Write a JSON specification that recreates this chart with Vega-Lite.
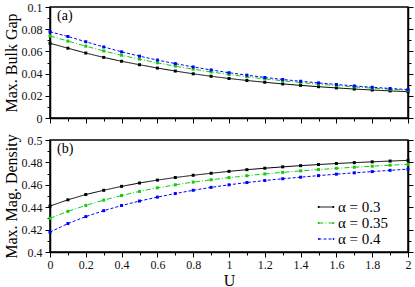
{
  "$schema": "https://vega.github.io/schema/vega-lite/v6.json",
  "padding": {"left": 2, "top": 0, "right": 2, "bottom": 0},
  "spacing": 8,
  "config": {
    "font": "Liberation Serif",
    "view": {"stroke": "#000000", "strokeWidth": 1.5},
    "axis": {"domainColor": "#000000", "domainWidth": 1.5, "tickColor": "#000000", "tickWidth": 1, "labelFont": "Liberation Serif", "labelFontSize": 12, "labelColor": "#111111", "titleFont": "Liberation Serif", "titleFontWeight": "normal", "titleColor": "#000000", "grid": false, "labelOverlap": false, "labelFlush": false, "labelPadding": 3},
    "legend": {"labelFont": "Liberation Serif", "labelFontSize": 15, "labelColor": "#000000"}
  },
  "datasets": {
    "rows": [
      {"U": 0.0, "s": "α = 0.3", "g": 0.0673, "d": 0.4410},
      {"U": 0.1, "s": "α = 0.3", "g": 0.0629, "d": 0.4466},
      {"U": 0.2, "s": "α = 0.3", "g": 0.0585, "d": 0.4513},
      {"U": 0.3, "s": "α = 0.3", "g": 0.0546, "d": 0.4551},
      {"U": 0.4, "s": "α = 0.3", "g": 0.0511, "d": 0.4586},
      {"U": 0.5, "s": "α = 0.3", "g": 0.0480, "d": 0.4616},
      {"U": 0.6, "s": "α = 0.3", "g": 0.0450, "d": 0.4642},
      {"U": 0.7, "s": "α = 0.3", "g": 0.0423, "d": 0.4665},
      {"U": 0.8, "s": "α = 0.3", "g": 0.0398, "d": 0.4685},
      {"U": 0.9, "s": "α = 0.3", "g": 0.0376, "d": 0.4703},
      {"U": 1.0, "s": "α = 0.3", "g": 0.0356, "d": 0.4720},
      {"U": 1.1, "s": "α = 0.3", "g": 0.0338, "d": 0.4735},
      {"U": 1.2, "s": "α = 0.3", "g": 0.0322, "d": 0.4748},
      {"U": 1.3, "s": "α = 0.3", "g": 0.0307, "d": 0.4760},
      {"U": 1.4, "s": "α = 0.3", "g": 0.0294, "d": 0.4771},
      {"U": 1.5, "s": "α = 0.3", "g": 0.0282, "d": 0.4781},
      {"U": 1.6, "s": "α = 0.3", "g": 0.0271, "d": 0.4790},
      {"U": 1.7, "s": "α = 0.3", "g": 0.0261, "d": 0.4798},
      {"U": 1.8, "s": "α = 0.3", "g": 0.0252, "d": 0.4805},
      {"U": 1.9, "s": "α = 0.3", "g": 0.0244, "d": 0.4812},
      {"U": 2.0, "s": "α = 0.3", "g": 0.0237, "d": 0.4818},
      {"U": 0.0, "s": "α = 0.35", "g": 0.0739, "d": 0.4301},
      {"U": 0.1, "s": "α = 0.35", "g": 0.0693, "d": 0.4363},
      {"U": 0.2, "s": "α = 0.35", "g": 0.0647, "d": 0.4416},
      {"U": 0.3, "s": "α = 0.35", "g": 0.0604, "d": 0.4463},
      {"U": 0.4, "s": "α = 0.35", "g": 0.0565, "d": 0.4504},
      {"U": 0.5, "s": "α = 0.35", "g": 0.0530, "d": 0.4541},
      {"U": 0.6, "s": "α = 0.35", "g": 0.0497, "d": 0.4573},
      {"U": 0.7, "s": "α = 0.35", "g": 0.0467, "d": 0.4600},
      {"U": 0.8, "s": "α = 0.35", "g": 0.0440, "d": 0.4624},
      {"U": 0.9, "s": "α = 0.35", "g": 0.0415, "d": 0.4645},
      {"U": 1.0, "s": "α = 0.35", "g": 0.0392, "d": 0.4664},
      {"U": 1.1, "s": "α = 0.35", "g": 0.0371, "d": 0.4681},
      {"U": 1.2, "s": "α = 0.35", "g": 0.0352, "d": 0.4697},
      {"U": 1.3, "s": "α = 0.35", "g": 0.0335, "d": 0.4711},
      {"U": 1.4, "s": "α = 0.35", "g": 0.0319, "d": 0.4724},
      {"U": 1.5, "s": "α = 0.35", "g": 0.0305, "d": 0.4736},
      {"U": 1.6, "s": "α = 0.35", "g": 0.0292, "d": 0.4747},
      {"U": 1.7, "s": "α = 0.35", "g": 0.0280, "d": 0.4757},
      {"U": 1.8, "s": "α = 0.35", "g": 0.0269, "d": 0.4766},
      {"U": 1.9, "s": "α = 0.35", "g": 0.0259, "d": 0.4775},
      {"U": 2.0, "s": "α = 0.35", "g": 0.0250, "d": 0.4783},
      {"U": 0.0, "s": "α = 0.4", "g": 0.0777, "d": 0.4177},
      {"U": 0.1, "s": "α = 0.4", "g": 0.0734, "d": 0.4254},
      {"U": 0.2, "s": "α = 0.4", "g": 0.0687, "d": 0.4316},
      {"U": 0.3, "s": "α = 0.4", "g": 0.0640, "d": 0.4369},
      {"U": 0.4, "s": "α = 0.4", "g": 0.0596, "d": 0.4415},
      {"U": 0.5, "s": "α = 0.4", "g": 0.0557, "d": 0.4455},
      {"U": 0.6, "s": "α = 0.4", "g": 0.0522, "d": 0.4490},
      {"U": 0.7, "s": "α = 0.4", "g": 0.0490, "d": 0.4522},
      {"U": 0.8, "s": "α = 0.4", "g": 0.0460, "d": 0.4551},
      {"U": 0.9, "s": "α = 0.4", "g": 0.0433, "d": 0.4577},
      {"U": 1.0, "s": "α = 0.4", "g": 0.0408, "d": 0.4600},
      {"U": 1.1, "s": "α = 0.4", "g": 0.0386, "d": 0.4620},
      {"U": 1.2, "s": "α = 0.4", "g": 0.0365, "d": 0.4638},
      {"U": 1.3, "s": "α = 0.4", "g": 0.0347, "d": 0.4654},
      {"U": 1.4, "s": "α = 0.4", "g": 0.0331, "d": 0.4668},
      {"U": 1.5, "s": "α = 0.4", "g": 0.0316, "d": 0.4682},
      {"U": 1.6, "s": "α = 0.4", "g": 0.0302, "d": 0.4695},
      {"U": 1.7, "s": "α = 0.4", "g": 0.0289, "d": 0.4707},
      {"U": 1.8, "s": "α = 0.4", "g": 0.0277, "d": 0.4718},
      {"U": 1.9, "s": "α = 0.4", "g": 0.0266, "d": 0.4729},
      {"U": 2.0, "s": "α = 0.4", "g": 0.0256, "d": 0.4740}
    ]
  },
  "data": {"name": "rows"},
  "resolve": {"scale": {"color": "independent", "strokeDash": "independent"}},
  "vconcat": [
    {
      "width": 358,
      "height": 111,
      "title": {"text": "(a)", "anchor": "start", "frame": "group", "orient": "top", "offset": -22, "dx": 7, "fontSize": 14, "fontWeight": "normal", "font": "Liberation Serif", "color": "#000000"},
      "encoding": {
        "x": {"field": "U", "type": "quantitative", "scale": {"domain": [0, 2], "nice": false}, "axis": {"title": null, "labels": false, "values": [0,0.1,0.2,0.3,0.4,0.5,0.6,0.7,0.8,0.9,1,1.1,1.2,1.3,1.4,1.5,1.6,1.7,1.8,1.9,2], "tickSize": {"condition": {"test": "round(datum.value*10)%2==0", "value": 5}, "value": 3}}},
        "color": {"field": "s", "type": "nominal", "scale": {"domain": ["α = 0.3", "α = 0.35", "α = 0.4"], "range": ["#000000", "#11cc11", "#0000ff"]}, "legend": null}
      },
      "layer": [
        {
          "mark": {"type": "line", "strokeWidth": 1},
          "encoding": {
            "y": {"field": "g", "type": "quantitative", "scale": {"domain": [0, 0.1], "nice": false}, "axis": {"orient": "left", "title": "Max. Bulk Gap", "titleFontSize": 16, "titlePadding": 2, "format": "~g", "values": [0,0.01,0.02,0.03,0.04,0.05,0.06,0.07,0.08,0.09,0.1], "labelExpr": "round(datum.value*100)%2==0 ? datum.label : ''", "tickSize": {"condition": {"test": "round(datum.value*100)%2==0", "value": 5}, "value": 3}}},
            "strokeDash": {"field": "s", "type": "nominal", "scale": {"domain": ["α = 0.3", "α = 0.35", "α = 0.4"], "range": [[1, 0], [5, 2, 1, 2], [3, 2]]}, "legend": null}
          }
        },
        {
          "mark": {"type": "point", "filled": true, "size": 9, "opacity": 1, "shape": "square"},
          "encoding": {
            "y": {"field": "g", "type": "quantitative", "scale": {"domain": [0, 0.1], "nice": false}, "axis": {"orient": "right", "title": null, "labels": false, "values": [0,0.01,0.02,0.03,0.04,0.05,0.06,0.07,0.08,0.09,0.1], "tickSize": {"condition": {"test": "round(datum.value*100)%2==0", "value": 5}, "value": 3}}}
          }
        }
      ],
      "resolve": {"axis": {"y": "independent"}}
    },
    {
      "width": 358,
      "height": 112,
      "title": {"text": "(b)", "anchor": "start", "frame": "group", "orient": "top", "offset": -22, "dx": 7, "fontSize": 14, "fontWeight": "normal", "font": "Liberation Serif", "color": "#000000"},
      "encoding": {
        "x": {"field": "U", "type": "quantitative", "scale": {"domain": [0, 2], "nice": false}, "axis": {"title": "U", "titleFontSize": 16, "titlePadding": 2, "labelPadding": 2, "format": "~g", "values": [0,0.1,0.2,0.3,0.4,0.5,0.6,0.7,0.8,0.9,1,1.1,1.2,1.3,1.4,1.5,1.6,1.7,1.8,1.9,2], "labelExpr": "round(datum.value*10)%2==0 ? datum.label : ''", "tickSize": {"condition": {"test": "round(datum.value*10)%2==0", "value": 5}, "value": 3}}},
        "color": {"field": "s", "type": "nominal", "scale": {"domain": ["α = 0.3", "α = 0.35", "α = 0.4"], "range": ["#000000", "#11cc11", "#0000ff"]}, "legend": {"title": null, "orient": "none", "legendX": 268, "legendY": 59, "symbolType": "M-1,0H1M-1.05,-0.07h0.14v0.14h-0.14zM0.91,-0.07h0.14v0.14h-0.14z", "symbolSize": 225, "symbolStrokeWidth": 1, "rowPadding": -3, "labelOffset": 4, "padding": 0, "encode": {"symbols": {"update": {"fill": {"value": "transparent"}, "shape": {"value": "M-1,0H1M-1.05,-0.07h0.14v0.14h-0.14zM0.91,-0.07h0.14v0.14h-0.14z"}}}}}}
      },
      "layer": [
        {
          "mark": {"type": "line", "strokeWidth": 1},
          "encoding": {
            "y": {"field": "d", "type": "quantitative", "scale": {"domain": [0.4, 0.5], "nice": false, "zero": false}, "axis": {"orient": "left", "title": "Max. Mag. Density", "titleFontSize": 16, "titlePadding": 2, "format": "~g", "values": [0.4,0.41,0.42,0.43,0.44,0.45,0.46,0.47,0.48,0.49,0.5], "labelExpr": "round(datum.value*100)%2==0 ? datum.label : ''", "tickSize": {"condition": {"test": "round(datum.value*100)%2==0", "value": 5}, "value": 3}}},
            "strokeDash": {"field": "s", "type": "nominal", "scale": {"domain": ["α = 0.3", "α = 0.35", "α = 0.4"], "range": [[1, 0], [5, 2, 1, 2], [3, 2]]}}
          }
        },
        {
          "mark": {"type": "point", "filled": true, "size": 9, "opacity": 1, "shape": "square"},
          "encoding": {
            "y": {"field": "d", "type": "quantitative", "scale": {"domain": [0.4, 0.5], "nice": false, "zero": false}, "axis": {"orient": "right", "title": null, "labels": false, "values": [0.4,0.41,0.42,0.43,0.44,0.45,0.46,0.47,0.48,0.49,0.5], "tickSize": {"condition": {"test": "round(datum.value*100)%2==0", "value": 5}, "value": 3}}}
          }
        }
      ],
      "resolve": {"axis": {"y": "independent"}}
    }
  ]
}
